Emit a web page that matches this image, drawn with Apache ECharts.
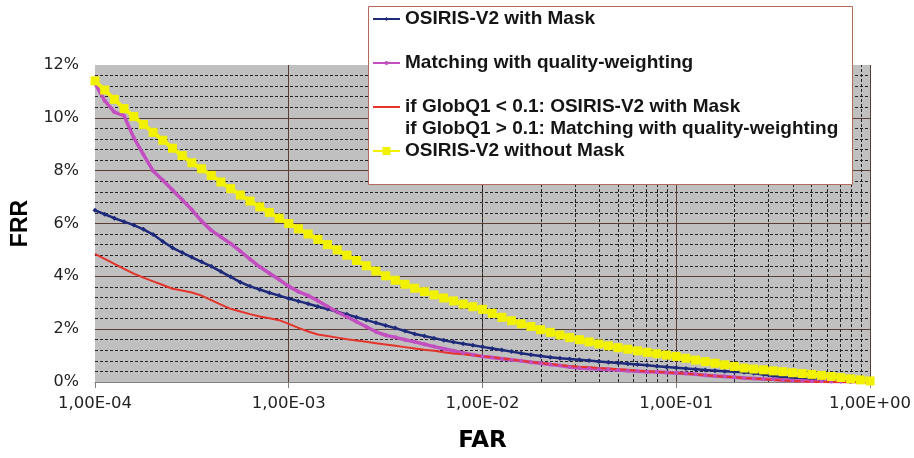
<!DOCTYPE html>
<html><head><meta charset="utf-8">
<script src="https://cdn.jsdelivr.net/npm/echarts@6/dist/echarts.min.js"></script>
<style>html,body{margin:0;padding:0;background:#fff}#c{width:914px;height:458px}</style>
</head><body><div id="c"></div>
<script>
// FAR sample positions as powers of ten (log10 FAR)
const farExp = [
 -4.00,-3.95,-3.90,-3.85,-3.80,-3.75,-3.70,-3.65,-3.60,-3.55,
 -3.50,-3.45,-3.40,-3.35,-3.30,-3.25,-3.20,-3.15,-3.10,-3.05,
 -3.00,-2.95,-2.90,-2.85,-2.80,-2.75,-2.70,-2.65,-2.60,-2.55,
 -2.50,-2.45,-2.40,-2.35,-2.30,-2.25,-2.20,-2.15,-2.10,-2.05,
 -2.00,-1.95,-1.90,-1.85,-1.80,-1.75,-1.70,-1.65,-1.60,-1.55,
 -1.50,-1.45,-1.40,-1.35,-1.30,-1.25,-1.20,-1.15,-1.10,-1.05,
 -1.00,-0.95,-0.90,-0.85,-0.80,-0.75,-0.70,-0.65,-0.60,-0.55,
 -0.50,-0.45,-0.40,-0.35,-0.30,-0.25,-0.20,-0.15,-0.10,-0.05,
  0.00];

// FRR values in %
const withMask = [
 6.50,6.35,6.20,6.07,5.94,5.78,5.58,5.32,5.08,4.90,
 4.72,4.55,4.38,4.18,3.98,3.78,3.62,3.50,3.38,3.27,
 3.16,3.06,2.96,2.86,2.76,2.66,2.56,2.45,2.35,2.24,
 2.14,2.04,1.93,1.82,1.74,1.66,1.58,1.51,1.45,1.39,
 1.33,1.27,1.21,1.15,1.09,1.03,0.98,0.94,0.90,0.87,
 0.84,0.81,0.78,0.75,0.72,0.69,0.66,0.63,0.60,0.57,
 0.54,0.51,0.48,0.45,0.43,0.41,0.39,0.37,0.33,0.28,
 0.23,0.19,0.16,0.13,0.10,0.08,0.06,0.04,0.02,0.01,
 0.00];

const qualityWeighting = [
 11.30,10.65,10.22,10.08,9.25,8.61,7.99,7.64,7.27,6.90,
 6.52,6.09,5.74,5.49,5.24,4.95,4.65,4.36,4.12,3.88,
 3.62,3.42,3.27,3.08,2.86,2.65,2.47,2.28,2.09,1.90,
 1.77,1.69,1.60,1.52,1.43,1.34,1.26,1.18,1.10,1.03,
 0.97,0.93,0.88,0.84,0.80,0.75,0.71,0.66,0.62,0.57,
 0.53,0.51,0.49,0.47,0.45,0.43,0.41,0.39,0.38,0.36,
 0.34,0.32,0.29,0.26,0.23,0.21,0.18,0.15,0.13,0.11,
 0.10,0.08,0.06,0.05,0.03,0.03,0.02,0.02,0.01,0.01,
 0.00];

const combined = [
 4.85,4.66,4.47,4.28,4.10,3.95,3.81,3.67,3.53,3.46,
 3.39,3.27,3.10,2.93,2.77,2.67,2.57,2.48,2.41,2.34,
 2.20,2.05,1.91,1.80,1.74,1.68,1.62,1.57,1.52,1.47,
 1.42,1.37,1.32,1.27,1.22,1.18,1.13,1.08,1.05,1.01,
 0.97,0.94,0.90,0.85,0.80,0.76,0.72,0.68,0.64,0.61,
 0.58,0.56,0.53,0.51,0.48,0.46,0.43,0.41,0.39,0.36,
 0.34,0.31,0.29,0.26,0.23,0.20,0.18,0.15,0.13,0.10,
 0.08,0.06,0.04,0.02,0.01,0.00,0.00,0.00,0.00,0.00,
 0.00];

const withoutMask = [
 11.40,11.05,10.70,10.35,10.05,9.75,9.45,9.15,8.85,8.57,
 8.30,8.07,7.82,7.57,7.32,7.08,6.85,6.63,6.42,6.20,
 6.00,5.80,5.60,5.40,5.20,5.00,4.80,4.60,4.40,4.20,
 4.02,3.85,3.70,3.55,3.42,3.30,3.18,3.07,2.95,2.85,
 2.75,2.60,2.45,2.32,2.20,2.10,1.98,1.88,1.78,1.68,
 1.60,1.52,1.44,1.37,1.30,1.24,1.18,1.12,1.07,1.02,
 0.97,0.90,0.83,0.77,0.71,0.65,0.59,0.53,0.49,0.46,
 0.42,0.39,0.35,0.32,0.29,0.25,0.21,0.17,0.12,0.08,
 0.04];

const seriesNames = [
 'OSIRIS-V2 with Mask',
 'Matching with quality-weighting',
 'if GlobQ1 < 0.1: OSIRIS-V2 with Mask\nif GlobQ1 > 0.1: Matching with quality-weighting',
 'OSIRIS-V2 without Mask'
];
const xTickLabels = ['1,00E-04','1,00E-03','1,00E-02','1,00E-01','1,00E+00'];
const decades = [1e-4, 1e-3, 1e-2, 1e-1];
const minorSteps = [2,3,4,5,6,7,8,9];

const toPts = vals => farExp.map((e, i) => [Math.pow(10, e), vals[i]]);
const minorFar = [];
decades.forEach(d => minorSteps.forEach(s => minorFar.push(s * d)));

const legendText = {fontFamily:'Liberation Sans', fontWeight:'bold', fontSize:19, color:'#151515', lineHeight:22};
const legendBase = {orient:'vertical', left:372, itemWidth:27, padding:0, selectedMode:false, z:10, textStyle:legendText};

const chart = echarts.init(document.getElementById('c'));
chart.setOption({
  animation: false,
  backgroundColor: '#fff',
  grid: {left:95, right:44, top:65, bottom:72, show:true, backgroundColor:'#c0c0c0', borderWidth:0},
  xAxis: {
    type:'log', logBase:10, min:1e-4, max:1,
    axisLine:{show:true, onZero:false, lineStyle:{color:'#808080'}},
    axisTick:{show:true, length:6, lineStyle:{color:'#808080'}},
    axisLabel:{formatter: v => xTickLabels[Math.round(Math.log10(v)) + 4], fontFamily:'DejaVu Sans', fontSize:16.5, color:'#222', margin:13},
    splitLine:{show:true, showMinLine:false, lineStyle:{color:'#5a3e34', width:1}},
    name:'FAR', nameLocation:'middle', nameGap:48,
    nameTextStyle:{fontFamily:'DejaVu Sans', fontWeight:'bold', fontSize:23, color:'#000'}
  },
  yAxis: {
    type:'value', min:0, max:12, interval:2,
    axisLine:{show:false}, axisTick:{show:false},
    axisLabel:{formatter:'{value}%', fontFamily:'DejaVu Sans', fontSize:16, color:'#222', margin:16},
    splitLine:{show:true, showMinLine:false, showMaxLine:false, lineStyle:{color:'#5a3e34', width:1}},
    minorTick:{show:false, splitNumber:5},
    minorSplitLine:{show:true, lineStyle:{color:'#222', width:1, type:[3,2]}},
    name:'FRR', nameLocation:'middle', nameGap:52, nameRotate:90,
    nameTextStyle:{fontFamily:'Liberation Sans', fontWeight:'bold', fontSize:23, color:'#000'}
  },
  graphic: [{type:'rect', left:368, top:6, z:5, shape:{width:484, height:178}, style:{fill:'#fff', stroke:'#b56b5c', lineWidth:1}}],
  legend: [
    Object.assign({}, legendBase, {top:8, itemHeight:5, data:[seriesNames[0]]}),
    Object.assign({}, legendBase, {top:52, itemHeight:5, data:[seriesNames[1]]}),
    Object.assign({}, legendBase, {top:74, itemHeight:2, data:[seriesNames[2]], formatter: n => '\n' + n}),
    Object.assign({}, legendBase, {top:140, itemHeight:10, data:[seriesNames[3]]})
  ],
  series: [
    {type:'line', data:[], silent:true, z:1,
     markLine:{silent:true, z:1, symbol:'none', label:{show:false},
       lineStyle:{color:'#222', width:1, type:[3,2]},
       data: minorFar.map(v => ({xAxis: v}))}},
    {name:seriesNames[0], type:'line', data:toPts(withMask), symbol:'diamond', symbolSize:5, showSymbol:true,
     lineStyle:{color:'#1f2a7a', width:2.5}, itemStyle:{color:'#1f2a7a'}, z:3},
    {name:seriesNames[1], type:'line', data:toPts(qualityWeighting), symbol:'circle', symbolSize:4, showSymbol:true,
     lineStyle:{color:'#c24fc0', width:3.5}, itemStyle:{color:'#c24fc0'}, z:3},
    {name:seriesNames[2], type:'line', data:toPts(combined), symbol:'none',
     lineStyle:{color:'#e5322b', width:2}, itemStyle:{color:'#e5322b'}, z:3},
    {name:seriesNames[3], type:'line', data:toPts(withoutMask), symbol:'rect', symbolSize:9, showSymbol:true,
     lineStyle:{color:'#f2f200', width:4}, itemStyle:{color:'#f2f200'}, z:3}
  ]
});
</script></body></html>
